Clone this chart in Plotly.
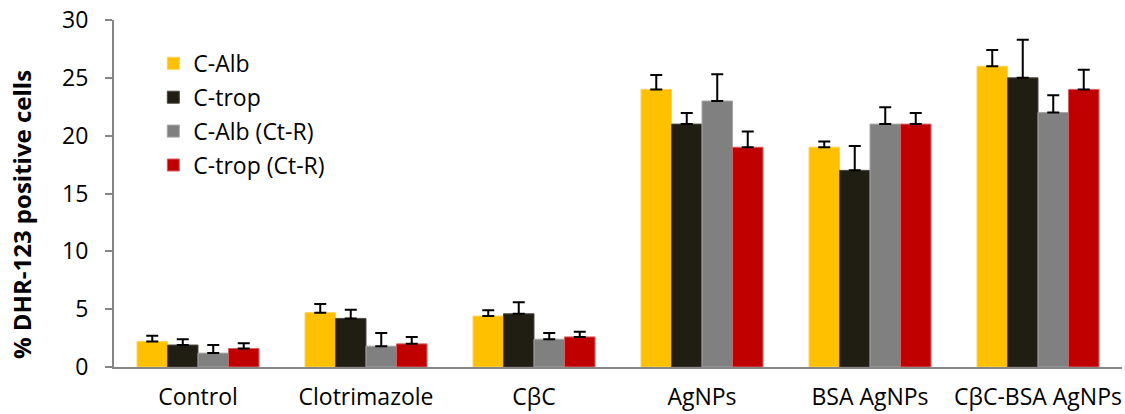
import plotly.graph_objects as go

# Treatment groups on the x axis
categories = ["Control", "Clotrimazole", "CβC", "AgNPs", "BSA AgNPs", "CβC-BSA AgNPs"]

# Series names
series_names = ["C-Alb", "C-trop", "C-Alb (Ct-R)", "C-trop (Ct-R)"]

# Mean % DHR-123 positive cells per series
c_alb = [2.2, 4.7, 4.4, 24, 19, 26]
c_trop = [1.9, 4.2, 4.6, 21, 17, 25]
c_alb_ctr = [1.2, 1.8, 2.4, 23, 21, 22]
c_trop_ctr = [1.6, 2.0, 2.6, 19, 21, 24]

# Upper error (SD) per series
c_alb_err = [0.5, 0.75, 0.5, 1.25, 0.5, 1.4]
c_trop_err = [0.5, 0.75, 1.0, 0.95, 2.1, 3.3]
c_alb_ctr_err = [0.7, 1.15, 0.55, 2.3, 1.45, 1.5]
c_trop_ctr_err = [0.45, 0.6, 0.45, 1.35, 0.95, 1.7]

y_title = "% DHR-123 positive cells"

values = [c_alb, c_trop, c_alb_ctr, c_trop_ctr]
errors = [c_alb_err, c_trop_err, c_alb_ctr_err, c_trop_ctr_err]
fill_colors = ["#FFC000", "#201E13", "#808080", "#C00000"]
edge_colors = ["#FFD24D", "#4A4840", "#A6A6A6", "#D96060"]

FONT = "Open Sans, DejaVu Sans, sans-serif"
AXIS_GREY = "#868686"
FS = 23

fig = go.Figure()
for name, vals, errs, fc, ec in zip(series_names, values, errors, fill_colors, edge_colors):
    fig.add_trace(go.Bar(
        name=name,
        legendgroup=name,
        x=categories,
        y=vals,
        marker=dict(color=fc, line=dict(color=ec, width=1)),
        error_y=dict(
            type="data",
            symmetric=False,
            array=errs,
            arrayminus=[0] * len(errs),
            color="#000000",
            thickness=2,
            width=6,
        ),
    ))

# Rotated y-axis title, placed as free text to the left of the tick labels
fig.add_annotation(
    text="<b>" + y_title + "</b>",
    textangle=-90,
    xref="paper",
    yref="paper",
    x=-0.0915,
    y=0.44,
    xanchor="center",
    yanchor="middle",
    showarrow=False,
    font=dict(family=FONT, size=24, color="#000000"),
)

fig.update_layout(
    width=1125,
    height=414,
    barmode="group",
    bargap=0.274,
    bargroupgap=0,
    plot_bgcolor="#FFFFFF",
    paper_bgcolor="#FFFFFF",
    margin=dict(l=114, r=3, t=20, b=47),
    font=dict(family=FONT, size=FS, color="#000000"),
    showlegend=True,
    legend=dict(
        x=0.039,
        y=0.937,
        xanchor="left",
        yanchor="top",
        bgcolor="rgba(0,0,0,0)",
        font=dict(family=FONT, size=FS, color="#000000"),
        itemwidth=30,
        tracegroupgap=1,
    ),
    xaxis=dict(
        showline=True,
        linecolor=AXIS_GREY,
        linewidth=2,
        ticks="",
        showgrid=False,
        tickangle=0,
        automargin=False,
        ticklabelstandoff=8,
        tickfont=dict(family=FONT, size=FS, color="#000000"),
    ),
    yaxis=dict(
        range=[0, 30],
        tickvals=[0, 5, 10, 15, 20, 25, 30],
        showline=True,
        linecolor=AXIS_GREY,
        linewidth=2,
        ticks="outside",
        ticklen=7,
        tickwidth=2,
        tickcolor=AXIS_GREY,
        showgrid=False,
        zeroline=False,
        automargin=False,
        ticklabelstandoff=12,
        tickfont=dict(family=FONT, size=FS, color="#000000"),
    ),
)

fig.write_html("out.html")
